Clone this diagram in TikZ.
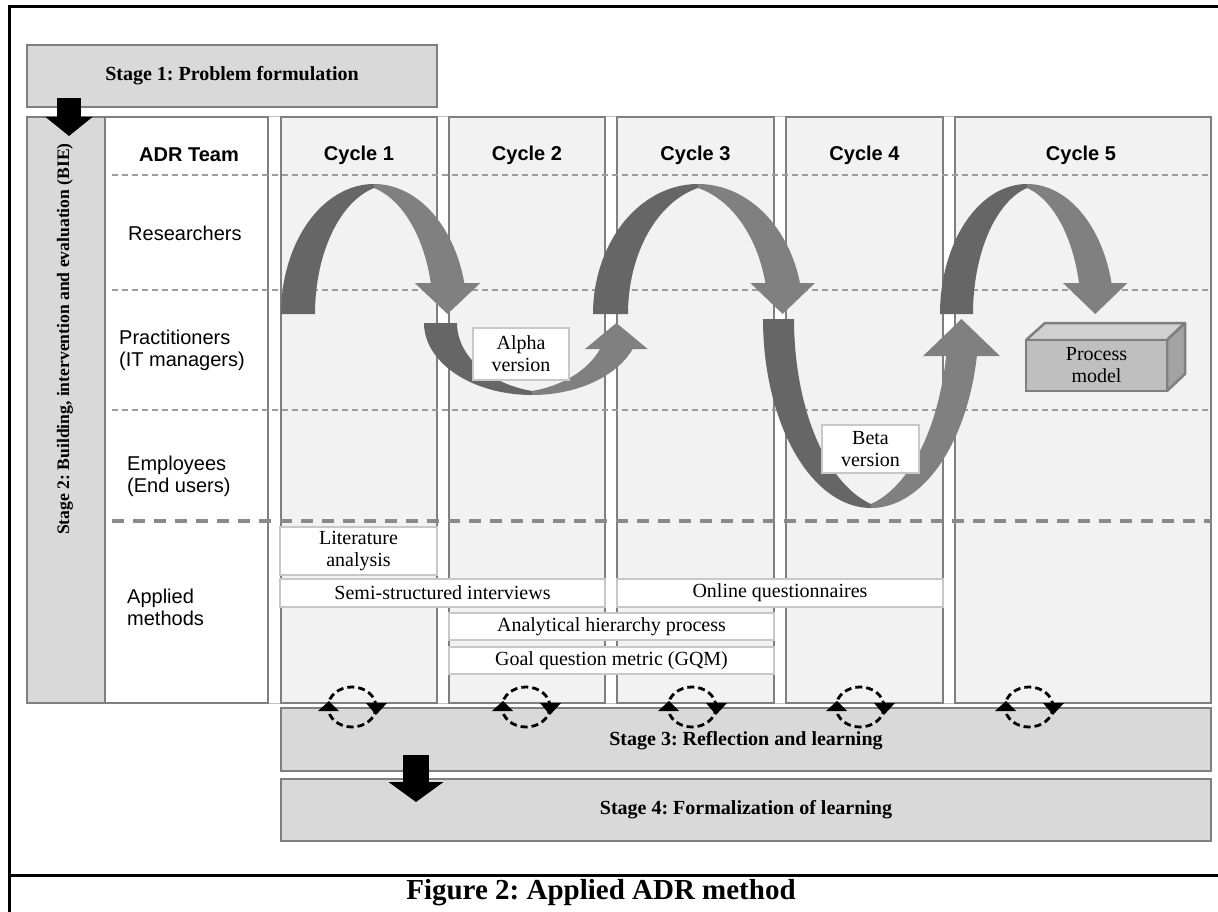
\documentclass[tikz,border=0pt]{standalone}
\usepackage{fontspec}
\setmainfont{Liberation Serif}
\newfontfamily\arialfont{Liberation Sans}
\usetikzlibrary{arrows.meta}
\frenchspacing
\definecolor{stagegray}{HTML}{D9D9D9}
\definecolor{bordgray}{HTML}{7F7F7F}
\definecolor{colfill}{HTML}{F2F2F2}
\definecolor{ribdark}{HTML}{666666}
\definecolor{riblight}{HTML}{808080}
\definecolor{thindashc}{HTML}{9C9C9C}
\definecolor{thickdashc}{HTML}{8A8A8A}
\definecolor{methborder}{HTML}{C8C8C8}
\definecolor{groupc}{HTML}{C4C4C4}
\definecolor{cubefront}{HTML}{BFBFBF}
\definecolor{cubetop}{HTML}{D0D0D0}
\definecolor{cuberight}{HTML}{A3A3A3}
\tikzset{
  frameline/.style={line width=3pt, black},
  groupline/.style={line width=1pt, draw=groupc},
  stagebox/.style={draw=bordgray, fill=stagegray, line width=1.5pt, inner sep=0pt},
  colbox/.style={draw=bordgray, fill=colfill, line width=1.2pt, inner sep=0pt},
  adrbox/.style={draw=bordgray, fill=white, line width=1.2pt, inner sep=0pt},
  methbox/.style={draw=methborder, fill=white, line width=1.5pt, inner sep=0pt, align=center,
    font=\fontsize{20}{22}\selectfont},
  verbox/.style={draw=methborder, fill=white, line width=1.5pt, inner sep=0pt, align=center,
    font=\fontsize{20}{22}\selectfont},
  cubebox/.style={draw=bordgray, fill=cubefront, line width=2.5pt, inner sep=0pt, align=center,
    font=\fontsize{20}{22}\selectfont},
  sanslbl/.style={font=\arialfont\fontsize{20}{22}\selectfont, inner sep=0pt, align=left},
  sanshead/.style={font=\arialfont\bfseries\fontsize{20}{22}\selectfont, inner sep=0pt},
  serifbold/.style={font=\bfseries\fontsize{20}{22}\selectfont},
  serifboldsm/.style={font=\bfseries\fontsize{17.6}{20}\selectfont, inner sep=0pt},
  thindash/.style={draw=thindashc, line width=1.3pt, dash pattern=on 6pt off 4pt},
  thickdash/.style={draw=thickdashc, line width=3.2pt, dash pattern=on 12pt off 9pt},
  icondash/.style={draw=black, line width=2.8pt, dash pattern=on 7pt off 4pt},
  blockarrowA/.style={draw=black, line width=24pt, -{Triangle[width=46pt,length=19pt]}},
  blockarrowB/.style={draw=black, line width=26pt, -{Triangle[width=54pt,length=20pt]}},
}
% curved two-tone ribbon arrow
% #1 cx, #2 y0, #3 Ro, #4 Ri, #5 H, #6 s (+1 arch up, -1 bowl down), #7 head length, #8 wing
\newcommand{\adrribbon}[8]{%
  \pgfmathsetmacro\RBd{0.3*#4}%
  \pgfmathsetmacro\RBa{acos(\RBd/(#4+\RBd))}%
  \pgfmathsetmacro\RBst{180-\RBa}%
  \pgfmathsetmacro\RBHi{(#5-4)/sin(\RBa)}%
  \pgfmathsetmacro\RBpo{asin(#7/#5)}%
  \pgfmathsetmacro\RBpi{asin(#7/\RBHi)}%
  \pgfmathsetmacro\RBxo{#1+#3*cos(\RBpo)}%
  \pgfmathsetmacro\RBxi{#1-\RBd+(#4+\RBd)*cos(\RBpi)}%
  \pgfmathsetmacro\RByone{#2-#6*#7}%
  \fill[ribdark] plot[domain=180:90, samples=50] ({#1+#3*cos(\x)},{#2-#6*#5*sin(\x)})
    -- plot[domain=\RBst:180, samples=50] ({#1+\RBd+(#4+\RBd)*cos(\x)},{#2-#6*\RBHi*sin(\x)}) -- cycle;
  \fill[riblight] plot[domain=90:\RBpo, samples=50] ({#1+#3*cos(\x)},{#2-#6*#5*sin(\x)})
    -- plot[domain=\RBpi:\RBa, samples=50] ({#1-\RBd+(#4+\RBd)*cos(\x)},{#2-#6*\RBHi*sin(\x)}) -- cycle;
  \fill[riblight] ({\RBxi-#8},\RByone) -- ({\RBxo+#8},\RByone) -- ({(\RBxi+\RBxo)/2},#2) -- cycle;
}
\begin{document}
\begin{tikzpicture}[x=1pt,y=-1pt]
\useasboundingbox (0,0) rectangle (1218,912);
\fill[white] (0,0) rectangle (1218,912);

% outer frame
\draw[frameline] (9,912) -- (9,7) -- (1218,7);
\draw[frameline] (9,875) -- (1218,875);

% group outline
\draw[groupline] (27,117) rectangle (1211,703);

% stage 1
\node[stagebox, serifbold, minimum width=410, minimum height=62] (s1) at (232,76) {Stage 1: Problem formulation};

% stage 2 + columns
\node[stagebox, minimum width=78, minimum height=586] (s2) at (66,410) {};
\node[serifboldsm, rotate=90] (s2t) at (65,339) {Stage 2: Building, intervention and evaluation (BIE)};
\node[adrbox, minimum width=163, minimum height=586] (adr) at (186.5,410) {};
\node[colbox, minimum width=156, minimum height=586] (c1) at (359,410) {};
\node[colbox, minimum width=156, minimum height=586] (c2) at (527,410) {};
\node[colbox, minimum width=157, minimum height=586] (c3) at (695.5,410) {};
\node[colbox, minimum width=157, minimum height=586] (c4) at (864.5,410) {};
\node[colbox, minimum width=256, minimum height=586] (c5) at (1083,410) {};

% headers
\node[sanshead] (hadr) at (189,155) {ADR Team};
\node[sanshead] (h1) at (359,155) {Cycle 1};
\node[sanshead] (h2) at (527,155) {Cycle 2};
\node[sanshead] (h3) at (695.5,155) {Cycle 3};
\node[sanshead] (h4) at (864.5,155) {Cycle 4};
\node[sanshead] (h5) at (1081,155) {Cycle 5};

% row separators
\draw[thindash] (112,175) -- (1211,175);
\draw[thindash] (112,290) -- (1211,290);
\draw[thindash] (112,410) -- (1211,410);
\draw[thickdash] (112,521) -- (1211,521);

% row labels
\node[sanslbl, anchor=west] (rres) at (128,233) {Researchers};
\node[sanslbl, anchor=west] (rpra) at (119,350) {Practitioners\\(IT managers)};
\node[sanslbl, anchor=west] (remp) at (127,476) {Employees\\(End users)};
\node[sanslbl, anchor=west] (rapp) at (127,607) {Applied\\methods};

% ribbon arrows
\adrribbon{374}{314}{93}{59}{130}{1}{31}{16}
\adrribbon{532}{323}{108}{75}{72}{-1}{26}{15}
\adrribbon{698}{314}{105}{70}{130}{1}{31}{15}
\adrribbon{871}{319}{108}{77}{189}{-1}{37}{23}
\adrribbon{1027}{314}{87}{54}{130}{1}{31}{16}

% versions
\node[verbox, minimum width=96, minimum height=52] (alpha) at (521,354) {Alpha\\version};
\node[verbox, minimum width=97, minimum height=48] (beta) at (870.5,449) {Beta\\version};

% process model cuboid
\filldraw[fill=cubetop, draw=bordgray, line width=2.5pt, line join=round] (1026,340) -- (1045,323) -- (1185,323) -- (1167,340) -- cycle;
\filldraw[fill=cuberight, draw=bordgray, line width=2.5pt, line join=round] (1167,340) -- (1185,323) -- (1185,374) -- (1167,391) -- cycle;
\node[cubebox, minimum width=141, minimum height=51] (pm) at (1096.5,365.5) {Process\\model};

% applied methods
\node[methbox, minimum width=157, minimum height=48] (lit) at (358.5,551) {Literature\\analysis};
\node[methbox, minimum width=325, minimum height=28] (semi) at (442.5,593) {Semi-structured interviews};
\node[methbox, minimum width=326, minimum height=28] (online) at (780,593) {Online questionnaires};
\node[methbox, minimum width=325, minimum height=27] (ahp) at (611.5,626.5) {Analytical hierarchy process};
\node[methbox, minimum width=325, minimum height=27] (gqm) at (611.5,660.5) {Goal question metric (GQM)};

% stage 3 and 4
\node[stagebox, serifbold, minimum width=930, minimum height=63] (s3) at (746,739.5) {};
\node[serifbold, inner sep=0pt] (s3t) at (746,741) {Stage 3: Reflection and learning};
\node[stagebox, serifbold, minimum width=930, minimum height=62] (s4) at (746,810) {Stage 4: Formalization of learning};

% reflection icons
\foreach \cx in {352,526,692,860,1029} {
  \draw[icondash] (\cx,707) ellipse [x radius=24, y radius=20];
  \fill[black] ({\cx-23},701) -- ({\cx-34},711) -- ({\cx-13},711) -- cycle;
  \fill[black] ({\cx+14},703) -- ({\cx+35},703) -- ({\cx+24},715) -- cycle;
}

% block arrows
\coordinate (a1s) at (69,98);
\coordinate (a1e) at (69,136);
\draw[blockarrowA] (a1s) -- (a1e);
\coordinate (a2s) at (416,755);
\coordinate (a2e) at (416,802);
\draw[blockarrowB] (a2s) -- (a2e);

% caption
\node[font=\bfseries\fontsize{29}{32}\selectfont, inner sep=0pt] (cap) at (601,893) {Figure 2: Applied ADR method};
\end{tikzpicture}
\end{document}
